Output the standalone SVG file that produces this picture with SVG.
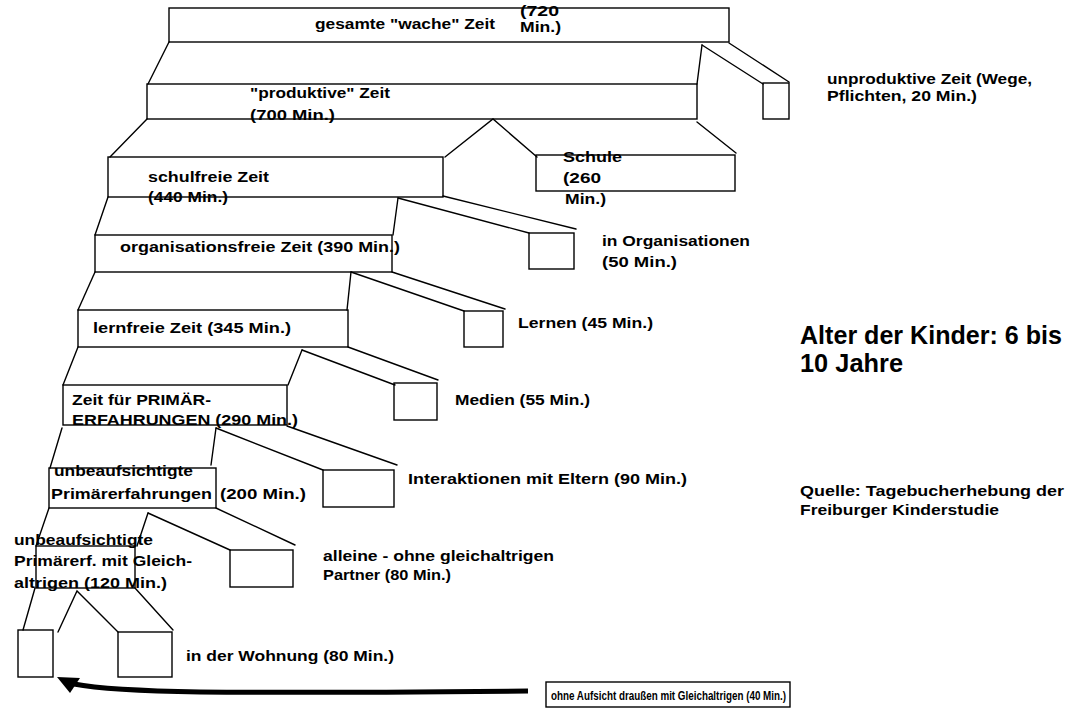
<svg xmlns="http://www.w3.org/2000/svg" width="1069" height="708" viewBox="0 0 1069 708">
<style>
rect.n { fill: none; stroke: #000; stroke-width: 1.4; }
.c line, .c polyline { stroke: #000; stroke-width: 1.4; fill: none; stroke-linecap: round; }
text { font-family: "Liberation Sans", Arial, sans-serif; font-weight: bold; font-size: 15px; fill: #000; }
text.big { font-size: 25px; }
text.sm { font-size: 13.5px; }
</style>
<rect width="1069" height="708" fill="#fff"/>
<g id="connectors" class="c">
  <line x1="169" y1="42" x2="148" y2="84"/>
  <line x1="702" y1="45" x2="697" y2="84"/>
  <line x1="702" y1="45" x2="763" y2="84"/>
  <line x1="729" y1="43" x2="789" y2="82"/>
  <line x1="147" y1="119" x2="110" y2="157"/>
  <polyline points="445,157 493,119 537,157"/>
  <line x1="697" y1="122" x2="736" y2="153"/>
  <line x1="108" y1="197" x2="95" y2="235"/>
  <line x1="398" y1="198" x2="393" y2="235"/>
  <line x1="398" y1="198" x2="529" y2="233"/>
  <line x1="443" y1="196" x2="576" y2="229"/>
  <line x1="95" y1="272" x2="78" y2="310"/>
  <line x1="351" y1="272" x2="347" y2="310"/>
  <line x1="351" y1="272" x2="464" y2="311"/>
  <line x1="392" y1="272" x2="505" y2="309"/>
  <line x1="78" y1="347" x2="63" y2="385"/>
  <line x1="302" y1="350" x2="288" y2="385"/>
  <line x1="302" y1="350" x2="395" y2="385"/>
  <line x1="348" y1="347" x2="438" y2="380"/>
  <line x1="62" y1="428" x2="50" y2="468"/>
  <line x1="216" y1="428" x2="211" y2="465"/>
  <line x1="216" y1="428" x2="323" y2="470"/>
  <line x1="287" y1="426" x2="397" y2="465"/>
  <line x1="49" y1="508" x2="36" y2="546"/>
  <line x1="148" y1="513" x2="137" y2="546"/>
  <line x1="148" y1="513" x2="230" y2="550"/>
  <line x1="216" y1="508" x2="295" y2="545"/>
  <line x1="35" y1="588" x2="23" y2="630"/>
  <polyline points="58,632 77,591 118,632"/>
  <line x1="135" y1="588" x2="173" y2="630"/>
  <path d="M528,691 C420,692 300,693 200,692 C140,691 100,689 74,684" fill="none" stroke="#000" stroke-width="5"/>
  <polygon points="57,677 80,678 70,693" fill="#000"/>
</g>
<g id="n-wache">
  <rect class="n" x="169" y="8" width="560" height="34"/>
  <text x="315" y="29" textLength="180" lengthAdjust="spacingAndGlyphs">gesamte "wache" Zeit</text>
  <text x="520" y="16" textLength="39" lengthAdjust="spacingAndGlyphs">(720</text>
  <text x="520" y="32" textLength="41" lengthAdjust="spacingAndGlyphs">Min.)</text>
</g>
<g id="n-produktiv">
  <rect class="n" x="147" y="84" width="550" height="35"/>
  <text x="250" y="98" textLength="140" lengthAdjust="spacingAndGlyphs">"produktive" Zeit</text>
  <text x="250" y="120" textLength="85" lengthAdjust="spacingAndGlyphs">(700 Min.)</text>
</g>
<g id="n-unproduktiv">
  <rect class="n" x="763" y="83" width="26" height="36"/>
  <text x="827" y="84" textLength="205" lengthAdjust="spacingAndGlyphs">unproduktive Zeit (Wege,</text>
  <text x="827" y="101" textLength="150" lengthAdjust="spacingAndGlyphs">Pflichten, 20 Min.)</text>
</g>
<g id="n-schulfrei">
  <rect class="n" x="108" y="157" width="335" height="40"/>
  <text x="148" y="182" textLength="121" lengthAdjust="spacingAndGlyphs">schulfreie Zeit</text>
  <text x="148" y="202" textLength="80" lengthAdjust="spacingAndGlyphs">(440 Min.)</text>
</g>
<g id="n-schule">
  <rect class="n" x="536" y="155" width="199" height="36"/>
  <text x="563" y="162" textLength="59" lengthAdjust="spacingAndGlyphs">Schule</text>
  <text x="563" y="183" textLength="38" lengthAdjust="spacingAndGlyphs">(260</text>
  <text x="565" y="204" textLength="41" lengthAdjust="spacingAndGlyphs">Min.)</text>
</g>
<g id="n-orgfrei">
  <rect class="n" x="95" y="235" width="297" height="37"/>
  <text x="120" y="252" textLength="280" lengthAdjust="spacingAndGlyphs">organisationsfreie Zeit (390 Min.)</text>
</g>
<g id="n-organisationen">
  <rect class="n" x="529" y="233" width="45" height="36"/>
  <text x="602" y="246" textLength="148" lengthAdjust="spacingAndGlyphs">in Organisationen</text>
  <text x="602" y="267" textLength="75" lengthAdjust="spacingAndGlyphs">(50 Min.)</text>
</g>
<g id="n-lernfrei">
  <rect class="n" x="78" y="310" width="270" height="37"/>
  <text x="93" y="333" textLength="198" lengthAdjust="spacingAndGlyphs">lernfreie Zeit (345 Min.)</text>
</g>
<g id="n-lernen">
  <rect class="n" x="464" y="311" width="39" height="36"/>
  <text x="518" y="328" textLength="135" lengthAdjust="spacingAndGlyphs">Lernen (45 Min.)</text>
</g>
<g id="n-primaer">
  <rect class="n" x="63" y="385" width="224" height="40"/>
  <text x="72" y="405" textLength="139" lengthAdjust="spacingAndGlyphs">Zeit für PRIMÄR-</text>
  <text x="72" y="425" textLength="226" lengthAdjust="spacingAndGlyphs">ERFAHRUNGEN (290 Min.)</text>
</g>
<g id="n-medien">
  <rect class="n" x="394" y="383" width="43" height="37"/>
  <text x="455" y="405" textLength="135" lengthAdjust="spacingAndGlyphs">Medien (55 Min.)</text>
</g>
<g id="n-unbeaufsichtigt">
  <rect class="n" x="49" y="468" width="167" height="40"/>
  <text x="54" y="476" textLength="139" lengthAdjust="spacingAndGlyphs">unbeaufsichtigte</text>
  <text x="51" y="499" textLength="161" lengthAdjust="spacingAndGlyphs">Primärerfahrungen</text>
  <text x="220" y="499" textLength="86" lengthAdjust="spacingAndGlyphs">(200 Min.)</text>
</g>
<g id="n-eltern">
  <rect class="n" x="323" y="470" width="71" height="37"/>
  <text x="408" y="484" textLength="279" lengthAdjust="spacingAndGlyphs">Interaktionen mit Eltern (90 Min.)</text>
</g>
<g id="n-gleichaltrige">
  <rect class="n" x="36" y="546" width="99" height="42"/>
  <text x="14" y="545" textLength="139" lengthAdjust="spacingAndGlyphs">unbeaufsichtigte</text>
  <text x="14" y="566" textLength="178" lengthAdjust="spacingAndGlyphs">Primärerf. mit Gleich-</text>
  <text x="14" y="588" textLength="153" lengthAdjust="spacingAndGlyphs">altrigen (120 Min.)</text>
</g>
<g id="n-alleine">
  <rect class="n" x="230" y="550" width="63" height="37"/>
  <text x="323" y="561" textLength="231" lengthAdjust="spacingAndGlyphs">alleine - ohne gleichaltrigen</text>
  <text x="323" y="580" textLength="128" lengthAdjust="spacingAndGlyphs">Partner (80 Min.)</text>
</g>
<g id="n-draussen">
  <rect class="n" x="18" y="630" width="35" height="47"/>
</g>
<g id="n-wohnung">
  <rect class="n" x="118" y="632" width="54" height="45"/>
  <text x="186" y="661" textLength="208" lengthAdjust="spacingAndGlyphs">in der Wohnung (80 Min.)</text>
</g>
<g id="n-ohne-aufsicht">
  <rect class="n" x="546" y="682" width="244" height="25"/>
  <text class="sm" x="551" y="700" textLength="235" lengthAdjust="spacingAndGlyphs">ohne Aufsicht draußen mit Gleichaltrigen (40 Min.)</text>
</g>
<g id="legend">
  <text class="big" x="800" y="344" textLength="262" lengthAdjust="spacingAndGlyphs">Alter der Kinder: 6 bis</text>
  <text class="big" x="800" y="372" textLength="103" lengthAdjust="spacingAndGlyphs">10 Jahre</text>
  <text x="800" y="496" textLength="264" lengthAdjust="spacingAndGlyphs">Quelle: Tagebucherhebung der</text>
  <text x="800" y="515" textLength="199" lengthAdjust="spacingAndGlyphs">Freiburger Kinderstudie</text>
</g>
</svg>
